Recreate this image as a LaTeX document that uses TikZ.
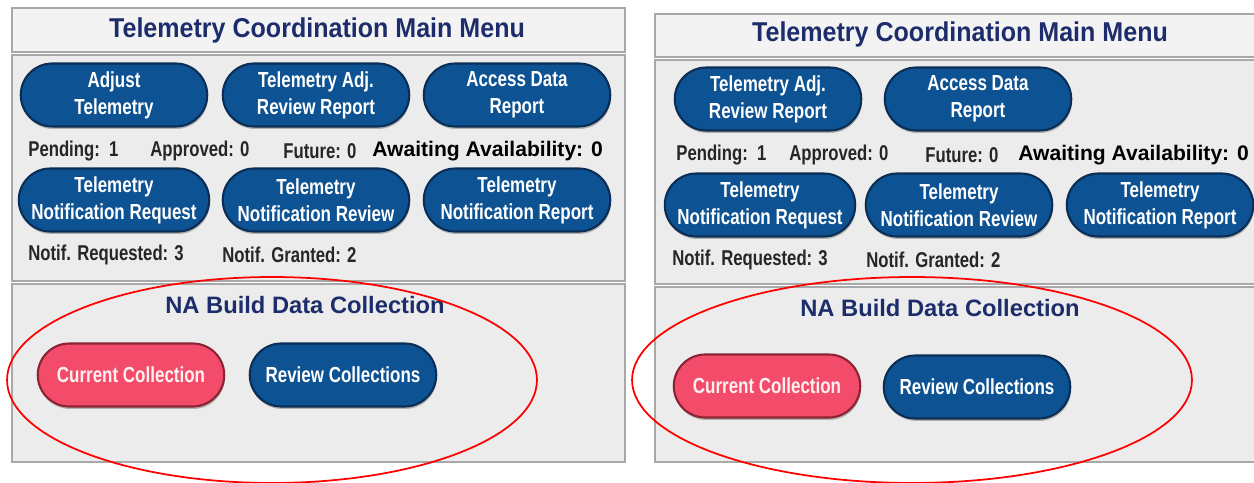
\documentclass[tikz,border=0pt]{standalone}
\usepackage{fontspec}
\setmainfont{Liberation Sans}
\newfontfamily\narrowfont[FakeStretch=0.78]{Liberation Sans}
\newfontfamily\titlefont[FakeStretch=0.92]{Liberation Sans}
\usetikzlibrary{shapes.misc, shadows, positioning}

\definecolor{btnblue}{HTML}{0D5292}
\definecolor{btnedge}{HTML}{0A2E55}
\definecolor{btnpink}{HTML}{F24C6A}
\definecolor{pinkedge}{HTML}{8C2335}
\definecolor{navytext}{HTML}{1D2D6B}
\definecolor{panelbg}{HTML}{ECECEC}
\definecolor{bandbg}{HTML}{F3F3F3}
\definecolor{frameline}{HTML}{A8A8A8}

\begin{document}
\begin{tikzpicture}[%
	x=0.02cm, y=-0.02cm,        % one unit is one pixel of the screenshot
	every node/.style={font=\narrowfont\bfseries},
	]
	% -------------------------------------------------
	% Box and text styles
	\tikzset{
		panel/.style={draw=frameline, line width=1pt, fill=panelbg},
		band/.style={panel, fill=bandbg},
		btn/.style={rounded rectangle, draw=btnedge, line width=1.2pt, fill=btnblue,
			text=white, align=center, minimum width=3.8cm, minimum height=1.26cm,
			inner sep=1pt, font=\narrowfont\bfseries\fontsize{12.4}{15.5}\selectfont,
			drop shadow={shadow xshift=0.4pt, shadow yshift=-1.4pt, opacity=.55}},
		hot/.style={btn, fill=btnpink, draw=pinkedge, text=pink!25},
		head/.style={text=navytext, font=\titlefont\bfseries\fontsize{15.5}{17}\selectfont},
		subhead/.style={text=navytext, font=\bfseries\fontsize{13.5}{16}\selectfont},
		count/.style={anchor=west, inner sep=0pt, text=black!85,
			font=\narrowfont\bfseries\fontsize{12.2}{14}\selectfont},
		wait/.style={count, text=black, font=\bfseries\fontsize{12}{14}\selectfont},
		ring/.style={draw=red, line width=1pt}
	}

	\useasboundingbox[fill=white] (0,0) rectangle (1254,483);
	\clip (0,0) rectangle (1254,483);

	% ------------------------------------------------- left screen
	\path[band]  (12,8)   rectangle (625,52);
	\path[panel] (12,55)  rectangle (625,281);
	\path[panel] (12,284) rectangle (625,462);

	\node[head] (lhead) at (317,30) {Telemetry Coordination Main Menu};

	\node[btn] (ladj)  at (114,95) {Adjust\\Telemetry};
	\node[btn] (lrev)  at (316,95) {Telemetry Adj.\\Review Report};
	\node[btn] (lacc)  at (517,95) {Access Data\\Report};

	\node[count] (lpend) at (28,151)  {Pending:\ \ 1};
	\node[count] (lappr) at (150,151) {Approved: 0};
	\node[count] (lfut)  at (283,151) {Future: 0};
	\node[wait]  (lwait) at (372,151) {Awaiting Availability: 0};

	\node[btn] (lnreq) at (114,200) {Telemetry\\Notification Request};
	\node[btn] (lnrev) at (316,200) {Telemetry\\Notification Review};
	\node[btn] (lnrep) at (517,200) {Telemetry\\Notification Report};

	\node[count] (lreq)  at (28,255)  {Notif. Requested: 3};
	\node[count] (lgrt)  at (222,255) {Notif. Granted: 2};

	\node[subhead] (lna) at (305,305) {NA Build Data Collection};
	\node[hot] (lcur)  at (131,375) {Current Collection};
	\node[btn] (lcol)  at (343,375) {Review Collections};

	\draw[ring] (272,380) ellipse [x radius=5.3cm, y radius=2.06cm];

	% ------------------------------------------------- right screen
	\path[band]  (655,14)  rectangle (1270,57);
	\path[panel] (655,60)  rectangle (1270,284);
	\path[panel] (655,287) rectangle (1270,462);

	\node[head] (rhead) at (960,34) {Telemetry Coordination Main Menu};

	\node[btn] (rrev)  at (768,99) {Telemetry Adj.\\Review Report};
	\node[btn] (racc)  at (978,99) {Access Data\\Report};

	\node[count] (rpend) at (676,155) {Pending:\ \ 1};
	\node[count] (rappr) at (789,155) {Approved: 0};
	\node[count] (rfut)  at (925,155) {Future: 0};
	\node[wait]  (rwait) at (1018,155) {Awaiting Availability: 0};

	\node[btn] (rnreq) at (760,205)  {Telemetry\\Notification Request};
	\node[btn] (rnrev) at (959,205)  {Telemetry\\Notification Review};
	\node[btn] (rnrep) at (1160,205) {Telemetry\\Notification Report};

	\node[count] (rreq)  at (672,260) {Notif. Requested: 3};
	\node[count] (rgrt)  at (866,260) {Notif. Granted: 2};

	\node[subhead] (rna) at (940,308) {NA Build Data Collection};
	\node[hot] (rcur)  at (767,386) {Current Collection};
	\node[btn] (rcol)  at (977,387) {Review Collections};

	\draw[ring] (912,380) ellipse [x radius=5.6cm, y radius=2.06cm];

\end{tikzpicture}
\end{document}
